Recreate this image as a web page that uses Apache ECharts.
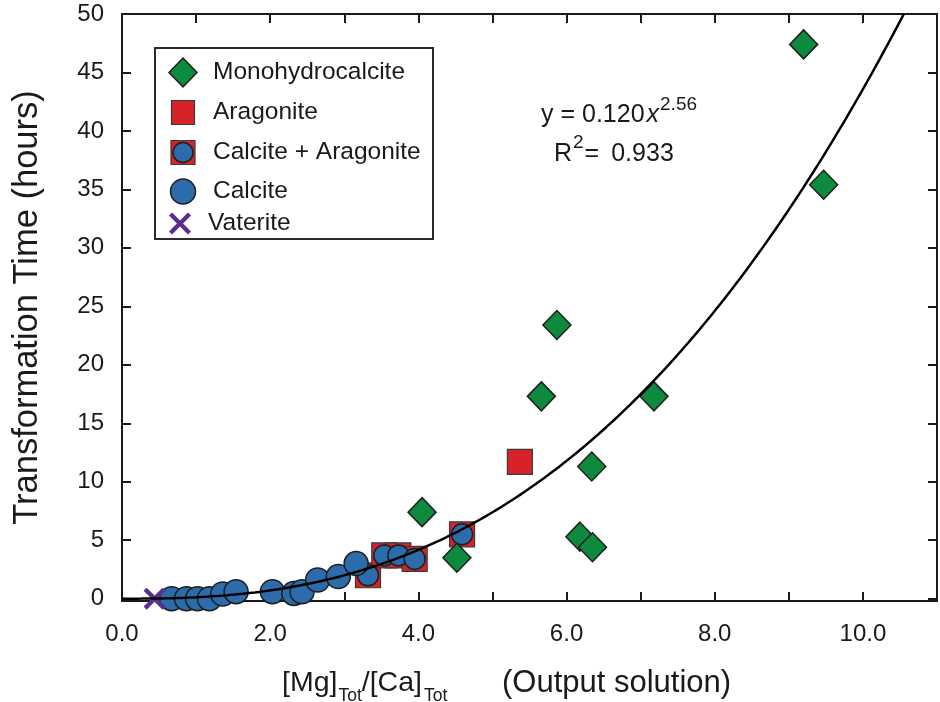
<!DOCTYPE html>
<html>
<head>
<meta charset="utf-8">
<script src="https://cdn.jsdelivr.net/npm/echarts@6/dist/echarts.min.js"></script>
<style>
  html, body { margin: 0; padding: 0; background: #fff; }
  #chart { width: 940px; height: 702px; }
</style>
</head>
<body>
<div id="chart"></div>
<script>
// Transformation time vs. Mg/Ca ratio of the output solution, by product phase
const monohydrocalcite = [[9.20, 47.4], [9.47, 35.4], [5.87, 23.4], [5.66, 17.3], [7.18, 17.3],
  [6.34, 11.3], [4.05, 7.4], [4.52, 3.5], [6.18, 5.3], [6.35, 4.4]];
const aragonite = [[5.37, 11.7]];
const calciteAragonite = [[3.32, 2.0], [3.54, 3.7], [3.73, 3.7], [3.95, 3.4], [4.59, 5.5]];
const calcite = [[0.67, 0.0], [0.87, 0.0], [1.02, 0.0], [1.18, 0.0], [1.36, 0.4], [1.54, 0.6],
  [2.03, 0.6], [2.32, 0.45], [2.43, 0.6], [2.64, 1.6], [2.92, 1.9], [3.16, 3.0]];
const vaterite = [[0.44, 0.0]];

// Power-law fit y = a * x^b
const FIT_A = 0.120;
const FIT_B = 2.56;
const FIT_R2 = 0.933;

const xTickLabels = ['0.0', '2.0', '4.0', '6.0', '8.0', '10.0'];
const yTickValues = [0, 5, 10, 15, 20, 25, 30, 35, 40, 45, 50];

const FONT = '"Liberation Sans", Arial, Helvetica, sans-serif';
const INK = '#1a1a1a';
const GREEN = '#0d8a3e';
const RED = '#d6232a';
const BLUE = '#2c6cab';
const PURPLE = '#5b2d8e';
const EDGE = '#1e1e1e';

const X_MAX = 11, Y_MIN = -0.2, Y_MAX = 50;

// sample the fitted curve up to where it leaves the top of the plot
const xEnd = Math.pow(Y_MAX / FIT_A, 1 / FIT_B);
const fitLine = [];
for (let i = 0; i <= 200; i++) {
  const x = xEnd * i / 200;
  fitLine.push([x, FIT_A * Math.pow(x, FIT_B)]);
}

// thick "X" outline in a 100x100 box
const CROSS_PTS = [[0, 14], [14, 0], [50, 36], [86, 0], [100, 14], [64, 50], [100, 86], [86, 100], [50, 64], [14, 100], [0, 86], [36, 50]];
const CROSS = 'path://M' + CROSS_PTS.map(p => p.join(',')).join(' L') + ' Z';

// text width helper so that sub/superscripts follow their base text
const measureCtx = document.createElement('canvas').getContext('2d');
function textWidth(str, font) { measureCtx.font = font; return measureCtx.measureText(str).width; }

// lay out a run of [text, font, dy, gap] pieces left to right from (x0, y0)
function textRun(pieces, x0, y0) {
  let x = x0;
  return pieces.map(([str, font, dy, gap]) => {
    x += gap || 0;
    const el = { type: 'text', x: x, y: y0 + dy, style: { text: str, font: font, fill: INK, verticalAlign: 'middle' } };
    x += textWidth(str, font);
    return el;
  });
}

const chart = echarts.init(document.getElementById('chart'), null, { renderer: 'canvas' });

const axisLine = () => ({ show: true, onZero: false, lineStyle: { color: INK, width: 2 } });
const tick = () => ({ show: true, inside: true, length: 9, lineStyle: { color: INK, width: 2 } });
const yTick = () => Object.assign(tick(), { customValues: yTickValues });

// legend drawn as a boxed key
const legendX = 183, textX = 213;
const legendRows = [72.5, 112.5, 152.5, 191.5, 223.5];
const legendNames = ['Monohydrocalcite', 'Aragonite', 'Calcite + Aragonite', 'Calcite', 'Vaterite'];
const LEGEND_FONT = '24.5px ' + FONT;
const legendText = legendNames.map((n, i) => ({
  type: 'text', x: i === 4 ? textX - 5 : textX, y: legendRows[i],
  style: { text: n, font: LEGEND_FONT, fill: INK, verticalAlign: 'middle' }
}));

const legendGraphics = [
  { type: 'rect', shape: { x: 155, y: 48, width: 278, height: 191 },
    style: { fill: '#fff', stroke: '#2a2a2a', lineWidth: 2 } },
  { type: 'polygon', shape: { points: [[legendX, legendRows[0] - 14.5], [legendX + 14, legendRows[0]], [legendX, legendRows[0] + 14.5], [legendX - 14, legendRows[0]]] },
    style: { fill: GREEN, stroke: EDGE, lineWidth: 1.5 } },
  { type: 'rect', shape: { x: legendX - 11.5, y: legendRows[1] - 12, width: 23, height: 24 },
    style: { fill: RED, stroke: '#3a3a3a', lineWidth: 1.2 } },
  { type: 'rect', shape: { x: legendX - 12, y: legendRows[2] - 12, width: 24, height: 24 },
    style: { fill: RED, stroke: '#3a3a3a', lineWidth: 1.2 } },
  { type: 'circle', shape: { cx: legendX, cy: legendRows[2], r: 10 },
    style: { fill: BLUE, stroke: EDGE, lineWidth: 1.5 } },
  { type: 'circle', shape: { cx: legendX, cy: legendRows[3], r: 12.5 },
    style: { fill: BLUE, stroke: EDGE, lineWidth: 1.5 } },
  { type: 'polygon',
    shape: { points: CROSS_PTS.map(p => [legendX - 3 - 11 + p[0] * 0.22, legendRows[4] - 11 + p[1] * 0.22]) },
    style: { fill: PURPLE } }
].concat(legendText);

// fit equation and R²
const EQ = '25px ' + FONT, EQ_SUP = '19px ' + FONT;
const equation = textRun([
  ['y = ' + FIT_A.toFixed(3), EQ, 0],
  ['x', 'italic ' + EQ, 0, 2],
  [String(FIT_B), EQ_SUP, -10, 1]
], 541, 115).concat(textRun([
  ['R', EQ, 0],
  ['2', EQ_SUP, -11, 1],
  ['=', EQ, 0, 1],
  [FIT_R2.toFixed(3), EQ, 0, 12]
], 554, 154));

// x-axis title with subscripts
const XT = '31px ' + FONT, XT_RATIO = '28.5px ' + FONT, XT_SUB = '17.5px ' + FONT;
const xTitle = textRun([
  ['[Mg]', XT_RATIO, 0],
  ['Tot', XT_SUB, 13, 1],
  ['/[Ca]', XT_RATIO, 0, 0],
  ['Tot', XT_SUB, 13, 2]
], 282, 683).concat(textRun([['(Output solution)', XT, 0]], 502, 683));

const option = {
  backgroundColor: '#fff',
  animation: false,
  grid: { left: 122, top: 14, width: 820, height: 587, containLabel: false },
  xAxis: [{
    type: 'value', min: 0, max: X_MAX, interval: 1,
    axisLine: axisLine(),
    axisTick: tick(),
    axisLabel: {
      show: true, margin: 21, color: INK, fontFamily: FONT, fontSize: 24,
      formatter: v => (v % 2 === 0 && v / 2 < xTickLabels.length) ? xTickLabels[v / 2] : ''
    },
    splitLine: { show: false }
  }, {
    type: 'value', position: 'top', min: 0, max: X_MAX, interval: 1,
    axisLine: axisLine(),
    axisTick: tick(),
    axisLabel: { show: false },
    splitLine: { show: false }
  }],
  yAxis: [{
    type: 'value', min: Y_MIN, max: Y_MAX,
    axisLine: axisLine(),
    axisTick: yTick(),
    axisLabel: { show: true, margin: 18, color: INK, fontFamily: FONT, fontSize: 24, customValues: yTickValues },
    splitLine: { show: false },
    name: 'Transformation Time (hours)',
    nameLocation: 'middle', nameGap: 77, nameRotate: 90,
    nameTextStyle: { fontFamily: FONT, fontSize: 34.5, color: INK }
  }, {
    type: 'value', position: 'right', min: Y_MIN, max: Y_MAX,
    axisLine: axisLine(),
    axisTick: yTick(),
    axisLabel: { show: false },
    splitLine: { show: false }
  }],
  series: [
    { name: 'Calcite + Aragonite', type: 'scatter', data: calciteAragonite, symbol: 'rect', symbolSize: 25, z: 2,
      itemStyle: { color: RED, borderColor: '#3a3a3a', borderWidth: 1.2, opacity: 1 } },
    { name: 'Calcite + Aragonite core', type: 'scatter', data: calciteAragonite, symbol: 'circle', symbolSize: 21, z: 3,
      itemStyle: { color: BLUE, borderColor: EDGE, borderWidth: 1.5, opacity: 1 } },
    { name: 'Calcite', type: 'scatter', data: calcite, symbol: 'circle', symbolSize: 24, z: 4,
      itemStyle: { color: BLUE, borderColor: EDGE, borderWidth: 1.5, opacity: 1 } },
    { name: 'Monohydrocalcite', type: 'scatter', data: monohydrocalcite, symbol: 'diamond', symbolSize: [28, 29], z: 5,
      itemStyle: { color: GREEN, borderColor: EDGE, borderWidth: 1.5, opacity: 1 } },
    { name: 'Aragonite', type: 'scatter', data: aragonite, symbol: 'rect', symbolSize: 25, z: 5,
      itemStyle: { color: RED, borderColor: '#3a3a3a', borderWidth: 1.2, opacity: 1 } },
    { name: 'Vaterite', type: 'scatter', data: vaterite, symbol: CROSS, symbolSize: 22, z: 6,
      itemStyle: { color: PURPLE, opacity: 1 } },
    { name: 'Fit', type: 'line', data: fitLine, showSymbol: false, symbol: 'none', smooth: false, clip: true, z: 7,
      lineStyle: { color: '#000', width: 2.5 } }
  ],
  graphic: legendGraphics.concat(equation, xTitle)
};

chart.setOption(option);
</script>
</body>
</html>
